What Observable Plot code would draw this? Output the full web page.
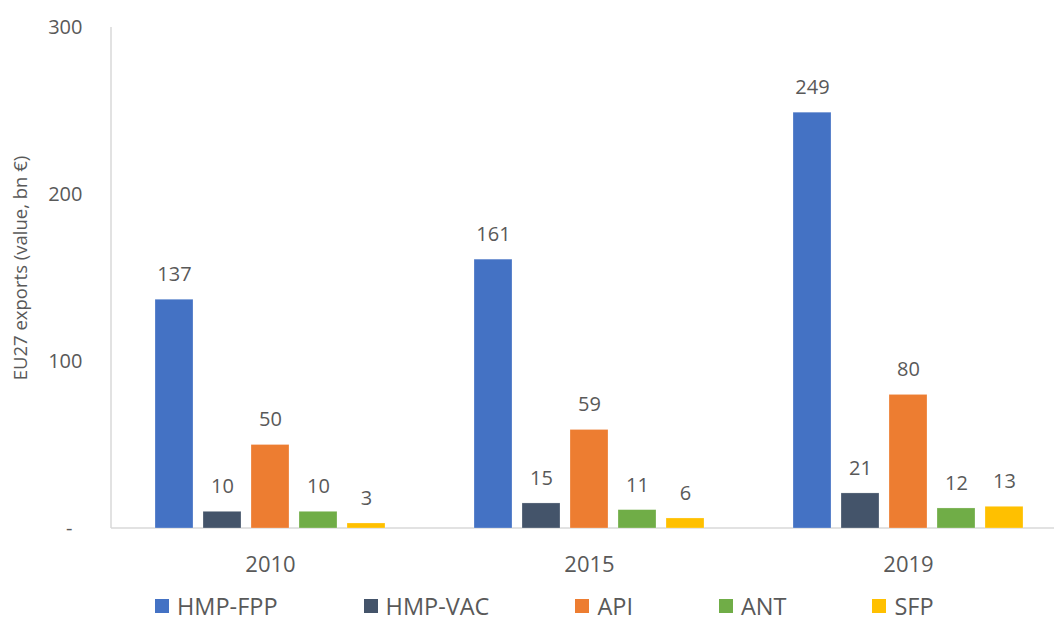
<!DOCTYPE html>
<html><head><meta charset="utf-8">
<script src="https://cdn.jsdelivr.net/npm/d3@7"></script>
<script src="https://cdn.jsdelivr.net/npm/@observablehq/plot@0.6"></script>
<style>
body{margin:0;overflow:hidden;background:#fff;font-family:"Open Sans",sans-serif;}
#wrap{position:relative;width:1054px;height:623px;overflow:hidden;}
#chart{position:absolute;left:0;top:0;}
#ytitle{position:absolute;left:19px;top:268px;transform:translate(-50%,-50%) rotate(-90deg);white-space:nowrap;font-size:18.5px;color:#595959;}
#legend{position:absolute;left:155px;top:595px;display:flex;gap:86px;font-size:23.5px;color:#595959;line-height:22px;}
.item{display:flex;align-items:center;gap:8px;}
.sw{width:14px;height:14px;}
</style></head>
<body><div id="wrap"><div id="chart"></div><div id="ytitle">EU27 exports (value, bn €)</div><div id="legend"></div></div>
<script>
const years = ["2010", "2015", "2019"];
const series = ["HMP-FPP", "HMP-VAC", "API", "ANT", "SFP"];
const colors = ["#4472C4", "#44546A", "#ED7D31", "#70AD47", "#FFC000"];
const hmpFpp = [137, 161, 249];
const hmpVac = [10, 15, 21];
const api = [50, 59, 80];
const ant = [10, 11, 12];
const sfp = [3, 6, 13];
const yTicks = [0, 100, 200, 300];

const values = [hmpFpp, hmpVac, api, ant, sfp];
const data = [];
years.forEach((yr, i) => series.forEach((s, j) => data.push({year: yr, series: s, value: values[j][i]})));

const textColor = "#595959";
const chart = Plot.plot({
  width: 1070, height: 590,
  marginLeft: 111, marginRight: 2, marginTop: 27, marginBottom: 62,
  style: {fontFamily: "Open Sans, sans-serif", background: "transparent", maxWidth: "none"},
  fx: {domain: years, paddingInner: 0.266, paddingOuter: 0.133, label: null},
  x: {domain: series, paddingInner: 0.2, paddingOuter: 0, axis: null},
  y: {domain: [0, 300], label: null},
  color: {domain: series, range: colors},
  marks: [
    Plot.axisY(yTicks, {tickSize: 0, tickPadding: 71, tickFormat: d => d === 0 ? "-\u2002" : String(d), fontSize: 20, color: textColor, label: null}),
    Plot.axisFx({anchor: "bottom", tickSize: 0, tickPadding: 28, fontSize: 22, color: textColor, label: null}),
    Plot.barY(data, {fx: "year", x: "series", y: "value", fill: "series", stroke: "white", strokeOpacity: 0.5, strokeWidth: 0.5}),
    Plot.text(data, {fx: "year", x: "series", y: "value", text: d => String(d.value), dy: -25, fontSize: 20, fill: textColor})
  ]
});
document.getElementById("chart").appendChild(chart);

// axis lines through the plot's own y scale
const ys = chart.scale("y");
const y0 = ys.apply(0), yTop = ys.apply(300);
const g = d3.select(chart).insert("g", ":first-child").attr("stroke", "#D9D9D9").attr("stroke-width", 1.5);
g.append("line").attr("x1", 111).attr("x2", 1070).attr("y1", y0).attr("y2", y0);
g.append("line").attr("x1", 111).attr("x2", 111).attr("y1", yTop).attr("y2", y0);

const legend = d3.select("#legend");
series.forEach((s, i) => {
  const it = legend.append("div").attr("class", "item");
  it.append("div").attr("class", "sw").style("background", colors[i]);
  it.append("span").text(s);
});
</script>
</body></html>
